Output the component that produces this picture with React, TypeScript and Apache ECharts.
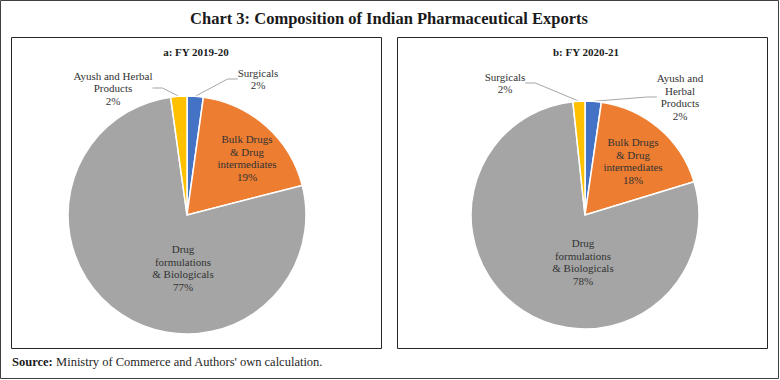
import React, { useEffect, useRef } from "react";
import * as echarts from "echarts";

const colors = ["#4472C4", "#ED7D31", "#A5A5A5", "#FFC000"];

const namesA = ["Surgicals", "Bulk Drugs & Drug intermediates", "Drug formulations & Biologicals", "Ayush and Herbal Products"];
const labelTextA = ["Surgicals", "Bulk Drugs\n& Drug\nintermediates", "Drug\nformulations\n& Biologicals", "Ayush and Herbal\nProducts"];
const valuesA = [2.2, 18.8, 76.8, 2.2];

const namesB = ["Ayush and Herbal Products", "Bulk Drugs & Drug intermediates", "Drug formulations & Biologicals", "Surgicals"];
const labelTextB = ["Ayush and\nHerbal\nProducts", "Bulk Drugs\n& Drug\nintermediates", "Drug\nformulations\n& Biologicals", "Surgicals"];
const valuesB = [2.3, 18.0, 78.0, 1.7];

const titleText = "Chart 3: Composition of Indian Pharmaceutical Exports";
const subA = "a: FY 2019-20";
const subB = "b: FY 2020-21";
const sourceText = "Ministry of Commerce and Authors' own calculation.";

const FONT = "Liberation Serif";

// label anchor positions (pixel) for each slice label
const labelPosA = [[258, 79], [247, 158], [183, 268], [113, 88]];
const labelPosB = [[680, 97], [633, 161], [583, 262], [505, 83]];

function makeSeries(names: string[], texts: string[], values: number[], center: number[], radius: number, pos: number[][], outside: boolean[]) {
  return {
    type: "pie",
    center,
    radius,
    startAngle: 90,
    clockwise: true,
    avoidLabelOverlap: false,
    itemStyle: { borderColor: "#ffffff", borderWidth: 1.5 },
    label: {
      show: true,
      fontFamily: FONT,
      fontSize: 11,
      lineHeight: 12.5,
      color: "#333333",
      align: "center",
    },
    labelLine: { show: true, lineStyle: { color: "#A6A6A6", width: 1 }, length: 10, length2: 10 },
    labelLayout: (p: any) => {
      const i = p.dataIndex;
      return { x: pos[i][0], y: pos[i][1], align: "center", verticalAlign: "middle" };
    },
    data: values.map((v, i) => ({
      name: names[i],
      value: v,
      itemStyle: { color: colors[i] },
      label: {
        position: outside[i] ? "outside" : "inside",
        formatter: () => `${texts[i]}\n${Math.round(v)}%`,
      },
      labelLine: { show: outside[i] },
    })),
  };
}

export default function App() {
  const ref = useRef<HTMLDivElement>(null);
  useEffect(() => {
    document.body.style.margin = "0";
    const chart = echarts.init(ref.current!, null, { renderer: "svg" });
    const outside = [true, false, false, true];
    chart.setOption({
      animation: false,
      backgroundColor: "#ffffff",
      graphic: [
        { type: "rect", shape: { x: 0.5, y: 0.5, width: 778, height: 378 }, style: { fill: "none", stroke: "#404040", lineWidth: 1 }, z: -1 },
        { type: "rect", shape: { x: 11.5, y: 37.5, width: 370, height: 311 }, style: { fill: "none", stroke: "#262626", lineWidth: 1 }, z: -1 },
        { type: "rect", shape: { x: 397.5, y: 37.5, width: 370, height: 311 }, style: { fill: "none", stroke: "#262626", lineWidth: 1 }, z: -1 },
        { type: "text", x: 389, y: 18, style: { text: titleText, font: `bold 16.5px "${FONT}"`, fill: "#1a1a1a", textAlign: "center", textVerticalAlign: "middle" } },
        { type: "text", x: 196, y: 52, style: { text: subA, font: `bold 11px "${FONT}"`, fill: "#1a1a1a", textAlign: "center", textVerticalAlign: "middle" } },
        { type: "text", x: 586, y: 52, style: { text: subB, font: `bold 11px "${FONT}"`, fill: "#1a1a1a", textAlign: "center", textVerticalAlign: "middle" } },
        {
          type: "text", x: 12, y: 362,
          style: {
            text: `{b|Source:} {n|${sourceText}}`,
            textVerticalAlign: "middle",
            rich: {
              b: { fontFamily: FONT, fontWeight: "bold", fontSize: 12.5, fill: "#1a1a1a" },
              n: { fontFamily: FONT, fontSize: 12.5, fill: "#262626" },
            },
          },
        },
      ],
      series: [
        makeSeries(namesA, labelTextA, valuesA, [187, 215], 119, labelPosA, outside),
        makeSeries(namesB, labelTextB, valuesB, [585, 215], 114, labelPosB, outside),
      ],
    });
    return () => chart.dispose();
  }, []);
  return <div ref={ref} style={{ width: 780, height: 380 }} />;
}
